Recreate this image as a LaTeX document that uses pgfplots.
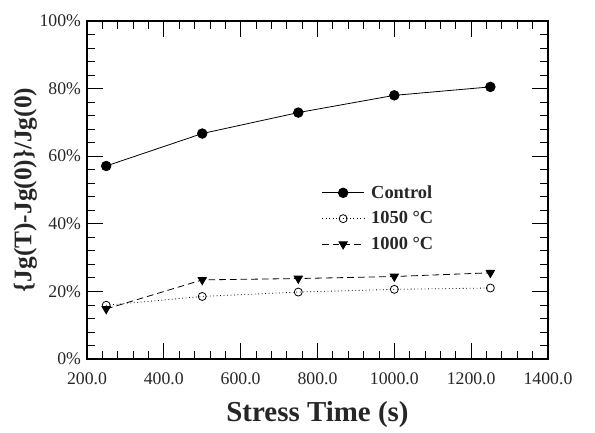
\documentclass[border=0pt]{standalone}
\usepackage{pgfplots}
\pgfplotsset{compat=1.18}
\usepackage{fontspec}
\setmainfont{Liberation Serif}

\begin{document}
\begin{tikzpicture}
\begin{axis}[
  scale only axis,
  width=345.75pt, height=253.5pt,
  xmin=200, xmax=1400, ymin=0, ymax=100,
  xtick={200,400,...,1400}, minor x tick num=4,
  ytick={0,20,...,100}, minor y tick num=4,
  tick align=inside,
  major tick length=12pt, minor tick length=6pt,
  every tick/.style={black, line width=0.6pt},
  axis line style={line width=0.8pt},
  tick label style={font=\fontsize{13.3}{15}\selectfont, text=black!85},
  /pgf/number format/assume math mode=true,
  xticklabel style={yshift=-6.5pt, /pgf/number format/fixed, /pgf/number format/fixed zerofill,
    /pgf/number format/precision=1, /pgf/number format/1000 sep={}},
  yticklabel style={xshift=-1pt},
  yticklabel={\pgfmathprintnumber{\tick}\%},
  xlabel={\textbf{Stress Time (s)}},
  xlabel style={font=\fontsize{21.7}{25}\selectfont, text=black!85, yshift=-6pt},
  ylabel={\textbf{\{Jg(T)-Jg(0)\}/Jg(0)}},
  ylabel style={font=\fontsize{19}{22}\selectfont, text=black!85, yshift=-5pt},
  legend style={draw=none, fill=none, at={(rel axis cs:0.5,0.53)}, anchor=north west,
    font=\fontsize{13.8}{16}\selectfont\bfseries, text=black!85,
    row sep=4.5pt, nodes={inner xsep=5pt}},
  legend cell align=left,
  legend image code/.code={
    \draw[mark repeat=2,mark phase=2] plot coordinates {(0pt,0pt)(15.75pt,0pt)(31.5pt,0pt)};
  },
  clip=false,
]
\path (rel axis cs:-0.1887,-0.2189) rectangle (rel axis cs:1.102,1.0621);
\addplot[black, line width=0.6pt, mark=*, mark size=3.6pt] coordinates {
  (250,57.1) (500,66.7) (750,72.9) (1000,78.0) (1250,80.5)};
\addlegendentry{Control}
\addplot[black, line width=0.6pt, dotted, mark=o, mark size=3pt, mark options={solid, fill=white}] coordinates {
  (250,15.9) (500,18.5) (750,19.8) (1000,20.6) (1250,21.0)};
\addlegendentry{1050 °C}
\addplot[black, line width=0.6pt, dash pattern=on 5pt off 3pt, mark=triangle*, mark size=3.6pt, mark options={solid, rotate=180}] coordinates {
  (250,14.8) (500,23.4) (750,23.8) (1000,24.4) (1250,25.5)};
\addlegendentry{1000 °C}
\end{axis}
\end{tikzpicture}
\end{document}
